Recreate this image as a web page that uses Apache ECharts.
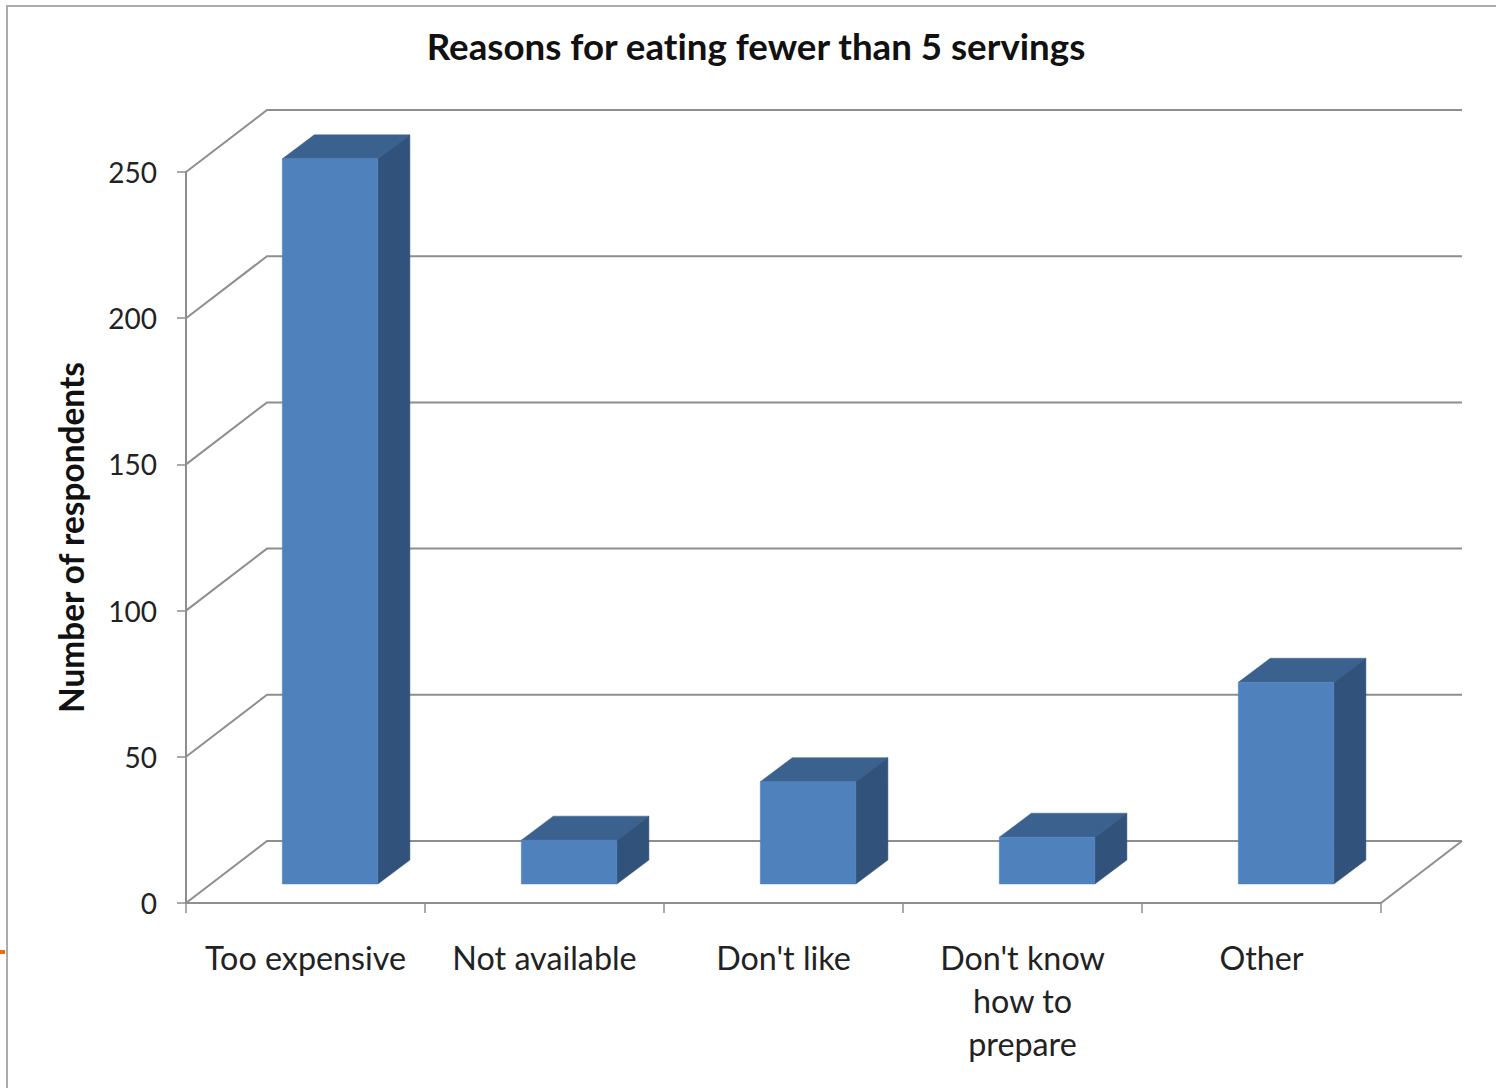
<!DOCTYPE html>
<html><head><meta charset="utf-8">
<style>html,body{margin:0;padding:0;background:#fff}#c{width:1496px;height:1088px}#c text{font-variant-ligatures:none}</style>
<script src="https://cdn.jsdelivr.net/npm/echarts@6/dist/echarts.min.js"></script>
</head><body><div id="c"></div>
<script>
const categories = ["Too expensive", "Not available", "Don't like", "Don't know\nhow to\nprepare", "Other"];
const respondents = [248, 15, 35, 16, 69];
const valueTicks = [0, 50, 100, 150, 200, 250];
const chartTitle = "Reasons for eating fewer than 5 servings";
const valueAxisName = "Number of respondents";

const FONT = "Lato, 'Open Sans', sans-serif";
const LINE = "#8e8e8e";
const WALL_DX = 81, WALL_DY = 62;
const BAR_SHIFT_X = 24.6, BAR_SHIFT_Y = 19, BAR_DX = 32, BAR_DY = 24, BAR_RATIO = 0.4;

function renderWall(params, api) {
  const cs = params.coordSys;
  const y = api.coord([0, api.value(0)])[1];
  const left = cs.x, right = cs.x + cs.width;
  const children = [{
    type: "polyline",
    shape: { points: [[left, y], [left + WALL_DX, y - WALL_DY], [right + WALL_DX, y - WALL_DY]] },
    style: { stroke: LINE, lineWidth: 2, fill: null }
  }];
  if (api.value(0) === 0) {
    children.push({
      type: "line",
      shape: { x1: right, y1: y, x2: right + WALL_DX, y2: y - WALL_DY },
      style: { stroke: LINE, lineWidth: 2 }
    });
  }
  return { type: "group", children };
}

function renderBar(params, api) {
  const top = api.coord([api.value(0), api.value(1)]);
  const base = api.coord([api.value(0), 0]);
  const w = api.size([1, 0])[0] * BAR_RATIO;
  const x0 = top[0] + BAR_SHIFT_X - w / 2, x1 = x0 + w;
  const yt = top[1] - BAR_SHIFT_Y, yb = base[1] - BAR_SHIFT_Y;
  const poly = (points, fill) => ({ type: "polygon", shape: { points }, style: { fill, stroke: fill, lineWidth: 0.5 } });
  return {
    type: "group",
    children: [
      poly([[x0, yt], [x0 + BAR_DX, yt - BAR_DY], [x1 + BAR_DX, yt - BAR_DY], [x1, yt]], "#3b618f"),
      poly([[x1, yt], [x1 + BAR_DX, yt - BAR_DY], [x1 + BAR_DX, yb - BAR_DY], [x1, yb]], "#31527b"),
      poly([[x0, yt], [x1, yt], [x1, yb], [x0, yb]], "#4f81bd")
    ]
  };
}

const chart = echarts.init(document.getElementById("c"), null, { renderer: "svg" });
chart.setOption({
  animation: false,
  backgroundColor: "#fff",
  title: {
    text: chartTitle, left: 751, top: 22, textAlign: "center",
    textStyle: { fontFamily: FONT, fontSize: 36.7, fontWeight: "bold", color: "#111" }
  },
  grid: { left: 186, right: 115, top: 172, bottom: 185 },
  xAxis: {
    type: "category", data: categories,
    axisLine: { show: true, lineStyle: { color: LINE, width: 2 } },
    axisTick: { show: true, length: 10, alignWithLabel: false, lineStyle: { color: LINE, width: 1.5 } },
    axisLabel: { interval: 0, margin: 32.5, fontFamily: FONT, fontSize: 32.3, lineHeight: 43, color: "#222" }
  },
  yAxis: {
    type: "value", min: 0, max: 250, interval: 50,
    name: valueAxisName, nameLocation: "middle", nameGap: 99, nameRotate: 90,
    nameTextStyle: { fontFamily: FONT, fontSize: 33.4, fontWeight: "bold", color: "#111" },
    axisLine: { show: true, lineStyle: { color: LINE, width: 2 } },
    axisTick: { show: true, length: 9, lineStyle: { color: LINE, width: 1.5 } },
    axisLabel: { margin: 29, padding: [3, 0, 0, 0], fontFamily: FONT, fontSize: 28, color: "#222" },
    splitLine: { show: false }
  },
  series: [
    {
      type: "custom", name: "walls", coordinateSystem: "cartesian2d", z: 1, silent: true, clip: false,
      data: valueTicks.map(v => [v]), encode: { y: 0 }, renderItem: renderWall
    },
    {
      type: "custom", name: valueAxisName, coordinateSystem: "cartesian2d", z: 2, clip: false,
      data: respondents.map((v, i) => [i, v]), encode: { x: 0, y: 1 }, renderItem: renderBar
    }
  ],
  graphic: [
    { type: "rect", shape: { x: 6, y: 5, width: 1490, height: 2 }, style: { fill: "#ababab" } },
    { type: "rect", shape: { x: 6, y: 5, width: 2, height: 1083 }, style: { fill: "#ababab" } },
    { type: "rect", shape: { x: 0, y: 950, width: 5, height: 4 }, style: { fill: "#f26a0a" } }
  ]
});
</script></body></html>
